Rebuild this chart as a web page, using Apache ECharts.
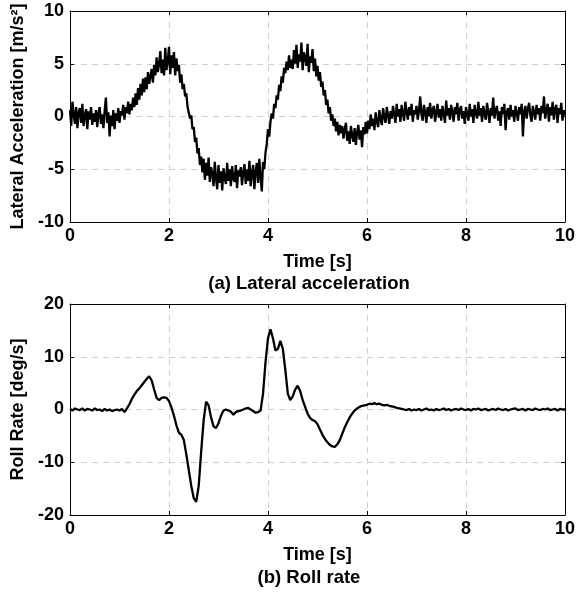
<!DOCTYPE html>
<html>
<head>
<meta charset="utf-8">
<script src="https://cdn.jsdelivr.net/npm/echarts@6/dist/echarts.min.js"></script>
<style>
html,body{margin:0;padding:0;background:#fff;}
#chart{width:578px;height:593px;}
</style>
</head>
<body>
<div id="chart"></div>
<script>
// sampling steps [s]
const accStep = 0.025;
const rollStep = 0.05;

// Lateral acceleration [m/s^2], sampled every 0.025 s from 0 to 10 s (20 samples per row = 0.5 s)
const lateralAcc = [
 0.6,-0.9,1.4,0.2,-0.7,0.9,-1.1,0.4,0.8,-0.6,1.2,-0.9,0.1,0.7,-1.2,0.5,-0.3,0.9,-0.8,0.3,
 -0.5,0.6,-1.0,0.3,0.9,-0.7,0.2,-1.1,0.5,1.8,-0.6,0.4,-1.9,0.1,-0.9,0.6,-1.2,0.3,-0.4,0.8,
 -0.6,0.5,0.1,1.1,-0.3,0.9,0.3,1.4,0.2,1.2,0.6,1.8,0.9,2.2,1.1,2.7,1.6,3.1,2.0,3.6,
 2.3,3.7,2.6,4.2,3.1,3.8,4.5,3.2,4.9,3.9,5.6,4.2,5.0,6.2,4.1,5.4,3.9,6.5,4.4,5.2,
 6.6,4.0,5.8,4.6,6.1,3.9,5.5,4.3,4.9,3.2,4.0,2.6,3.1,1.9,2.2,0.9,1.0,-0.2,0.1,-1.2,
 -1.0,-2.4,-2.0,-3.5,-3.0,-4.6,-3.8,-5.3,-4.0,-6.0,-4.4,-5.6,-3.9,-6.2,-4.8,-5.4,-6.6,-4.3,-5.9,-6.9,
 -4.6,-6.3,-5.2,-7.0,-4.9,-5.8,-6.4,-4.4,-6.1,-5.0,-6.6,-4.7,-5.9,-6.2,-4.6,-6.8,-5.1,-5.7,-4.8,-6.5,
 -5.3,-4.5,-6.4,-5.0,-6.1,-4.2,-6.6,-5.4,-4.6,-6.9,-5.2,-4.4,-6.3,-4.0,-5.8,-7.1,-4.3,-5.0,-3.4,-2.6,
 -1.2,-1.9,-0.5,0.3,-0.2,1.2,0.8,2.0,1.6,3.0,2.4,3.8,3.2,4.6,4.1,5.2,4.4,5.8,4.6,5.4,
 4.5,6.3,5.0,6.8,4.6,5.9,5.2,7.0,4.4,6.1,5.6,4.8,6.9,4.2,5.7,5.1,6.4,4.3,5.5,3.8,
 4.8,3.4,4.2,2.8,3.3,2.0,2.5,1.1,1.6,0.3,0.9,-0.4,0.2,-0.9,-0.2,-1.4,-0.5,-1.8,-0.8,-1.6,
 -0.9,-2.1,-1.2,-0.6,-2.3,-1.4,-2.6,-0.9,-1.8,-2.4,-1.1,-2.7,-1.5,-0.8,-2.2,-1.3,-2.9,-1.0,-1.7,-0.5,
 -1.6,-0.4,-1.2,0.2,-0.9,-0.2,-1.3,0.4,-0.5,-1.0,0.6,-0.3,-0.8,0.8,-0.1,-0.6,0.9,0.1,-0.7,0.5,
 -0.2,1.0,0.2,-0.6,1.2,0.0,0.7,-0.5,1.1,0.3,-0.4,1.4,0.4,-0.3,0.9,0.1,1.2,-0.5,0.6,0.2,
 1.0,-0.3,0.5,1.9,0.2,-0.4,1.1,0.4,-0.6,0.9,0.0,1.3,-0.2,0.6,1.0,-0.5,0.4,1.2,-0.1,0.7,
 -0.4,1.0,0.3,-0.6,1.5,0.1,0.8,-0.3,1.1,0.4,-0.5,0.9,0.2,1.3,-0.4,0.6,1.0,-0.2,0.5,-0.7,
 0.9,0.2,-0.4,1.2,0.0,0.7,-0.6,1.1,0.3,-0.2,1.4,0.1,0.8,-0.5,1.0,0.2,-0.3,1.3,0.4,-0.6,
 0.8,0.1,1.8,-0.2,0.6,1.0,-0.4,0.5,-0.9,0.9,0.2,1.2,-1.3,0.4,0.8,-0.3,1.1,0.0,0.6,-0.5,
 1.0,0.3,-0.4,0.9,0.2,1.2,-1.9,0.5,1.0,-0.2,0.7,1.3,0.1,-0.5,1.0,0.4,-0.3,1.1,0.2,0.8,
 -0.4,1.0,0.3,1.9,-0.2,0.6,1.2,-0.5,0.9,0.1,1.4,-0.3,0.7,1.1,-0.6,0.8,0.2,1.3,-0.4,0.6,
 0.1
];

// Roll rate [deg/s], sampled every 0.05 s from 0 to 10 s
const rollRate = [
 0.1,-0.2,0.2,0.0,-0.1,0.2,-0.2,0.1,0.0,-0.2,
 0.2,-0.1,0.0,-0.3,0.1,-0.2,0.0,-0.3,-0.1,0.0,
 -0.2,0.1,-0.5,0.2,1.0,2.0,2.8,3.5,4.0,4.6,
 5.2,5.8,6.3,5.5,3.8,2.2,1.8,2.2,2.3,2.2,
 1.6,0.4,-1.2,-3.0,-4.4,-4.8,-5.8,-8.5,-11.5,-14.5,
 -16.8,-17.5,-14.5,-8.0,-2.0,1.5,0.8,-1.5,-3.2,-3.5,
 -2.6,-1.2,-0.2,0.0,-0.2,-0.4,-1.0,-0.5,-0.3,-0.2,
 0.0,0.2,0.3,0.0,-0.3,-0.6,-0.5,-0.2,3.0,9.0,
 13.5,15.2,13.5,11.2,11.5,13.0,11.5,7.5,3.0,1.8,
 2.5,3.8,4.5,3.5,1.8,0.5,-0.8,-1.6,-2.0,-2.2,
 -2.8,-3.8,-4.8,-5.6,-6.2,-6.7,-7.0,-7.1,-6.6,-5.8,
 -4.6,-3.4,-2.4,-1.5,-0.8,-0.2,0.2,0.5,0.7,0.8,
 0.9,1.1,1.0,1.2,1.0,1.1,0.9,0.8,0.9,0.7,
 0.6,0.5,0.3,0.2,0.1,0.0,-0.1,0.1,-0.2,0.0,
 -0.1,0.1,-0.2,0.0,0.2,-0.1,0.0,-0.2,0.1,-0.1,
 0.0,0.2,-0.1,0.1,-0.2,0.0,0.1,-0.1,0.2,0.0,
 -0.1,0.1,-0.2,0.1,0.0,0.2,-0.1,0.0,0.1,-0.2,
 0.0,0.1,-0.1,0.2,0.0,-0.1,0.1,-0.2,0.0,0.1,
 0.2,-0.1,0.0,0.1,-0.2,0.1,0.0,-0.1,0.2,0.0,
 -0.1,0.1,0.0,0.2,-0.1,0.0,0.1,-0.2,0.1,0.0,
 0.0
];

// axis tick values
const timeTicks = [0, 2, 4, 6, 8, 10];
const accTicks = [-10, -5, 0, 5, 10];
const rollTicks = [-20, -10, 0, 10, 20];

const accPairs = lateralAcc.map((v, i) => [+(i * accStep).toFixed(3), v]);
const rollPairs = rollRate.map((v, i) => [+(i * rollStep).toFixed(2), v]);

const FONT = '"Liberation Sans", Arial, Helvetica, sans-serif';
const chart = echarts.init(document.getElementById('chart'), null, {renderer: 'canvas'});

function xAx(gridIndex, bottom) {
  return {
    type: 'value', gridIndex: gridIndex, min: timeTicks[0], max: timeTicks[timeTicks.length-1], interval: 2,
    position: bottom ? 'bottom' : 'top',
    name: bottom ? 'Time [s]' : '', nameLocation: 'middle', nameGap: 31,
    nameTextStyle: {fontFamily: FONT, fontWeight: 'bold', fontSize: 18, color: '#000'},
    axisLine: {show: true, onZero: false, lineStyle: {color: '#000', width: 1}},
    axisTick: {show: true, inside: true, length: 4, lineStyle: {color: '#000'}},
    axisLabel: {show: bottom, fontFamily: FONT, fontWeight: 'bold', fontSize: 18, color: '#000', margin: 5},
    splitLine: {show: bottom, lineStyle: {color: '#cfcfcf', type: [6, 5], width: 1}}
  };
}
function yAx(gridIndex, left, ticks, name, interval) {
  return {
    type: 'value', gridIndex: gridIndex, min: ticks[0], max: ticks[ticks.length-1], interval: interval,
    position: left ? 'left' : 'right',
    name: left ? name : '', nameLocation: 'middle', nameGap: 39,
    nameTextStyle: {fontFamily: FONT, fontWeight: 'bold', fontSize: 18, color: '#000'},
    axisLine: {show: true, onZero: false, lineStyle: {color: '#000', width: 1}},
    axisTick: {show: true, inside: true, length: 4, lineStyle: {color: '#000'}},
    axisLabel: {show: left, fontFamily: FONT, fontWeight: 'bold', fontSize: 18, color: '#000', margin: 6},
    splitLine: {show: left, lineStyle: {color: '#cfcfcf', type: [6, 5], width: 1}}
  };
}

chart.setOption({
  animation: false,
  backgroundColor: '#fff',
  grid: [
    {left: 70, right: 10, top: 11, height: 211},
    {left: 70, right: 10, top: 304, height: 211}
  ],
  xAxis: [xAx(0, true), xAx(0, false), xAx(1, true), xAx(1, false)],
  yAxis: [
    yAx(0, true, accTicks, 'Lateral Acceleration [m/s²]', 5),
    yAx(0, false, accTicks, '', 5),
    yAx(1, true, rollTicks, 'Roll Rate [deg/s]', 10),
    yAx(1, false, rollTicks, '', 10)
  ],
  graphic: [
    {type: 'text', x: 309, y: 284, style: {text: '(a) Lateral acceleration', align: 'center', verticalAlign: 'middle', fontFamily: FONT, fontWeight: 'bold', fontSize: 18.5, fill: '#000'}},
    {type: 'text', x: 309, y: 578, style: {text: '(b) Roll rate', align: 'center', verticalAlign: 'middle', fontFamily: FONT, fontWeight: 'bold', fontSize: 18.5, fill: '#000'}}
  ],
  series: [
    {type: 'line', xAxisIndex: 0, yAxisIndex: 0, data: accPairs, showSymbol: false, lineStyle: {color: '#000', width: 2.3}, z: 5},
    {type: 'line', xAxisIndex: 2, yAxisIndex: 2, data: rollPairs, showSymbol: false, lineStyle: {color: '#000', width: 2.3}, z: 5}
  ]
});
</script>
</body>
</html>
